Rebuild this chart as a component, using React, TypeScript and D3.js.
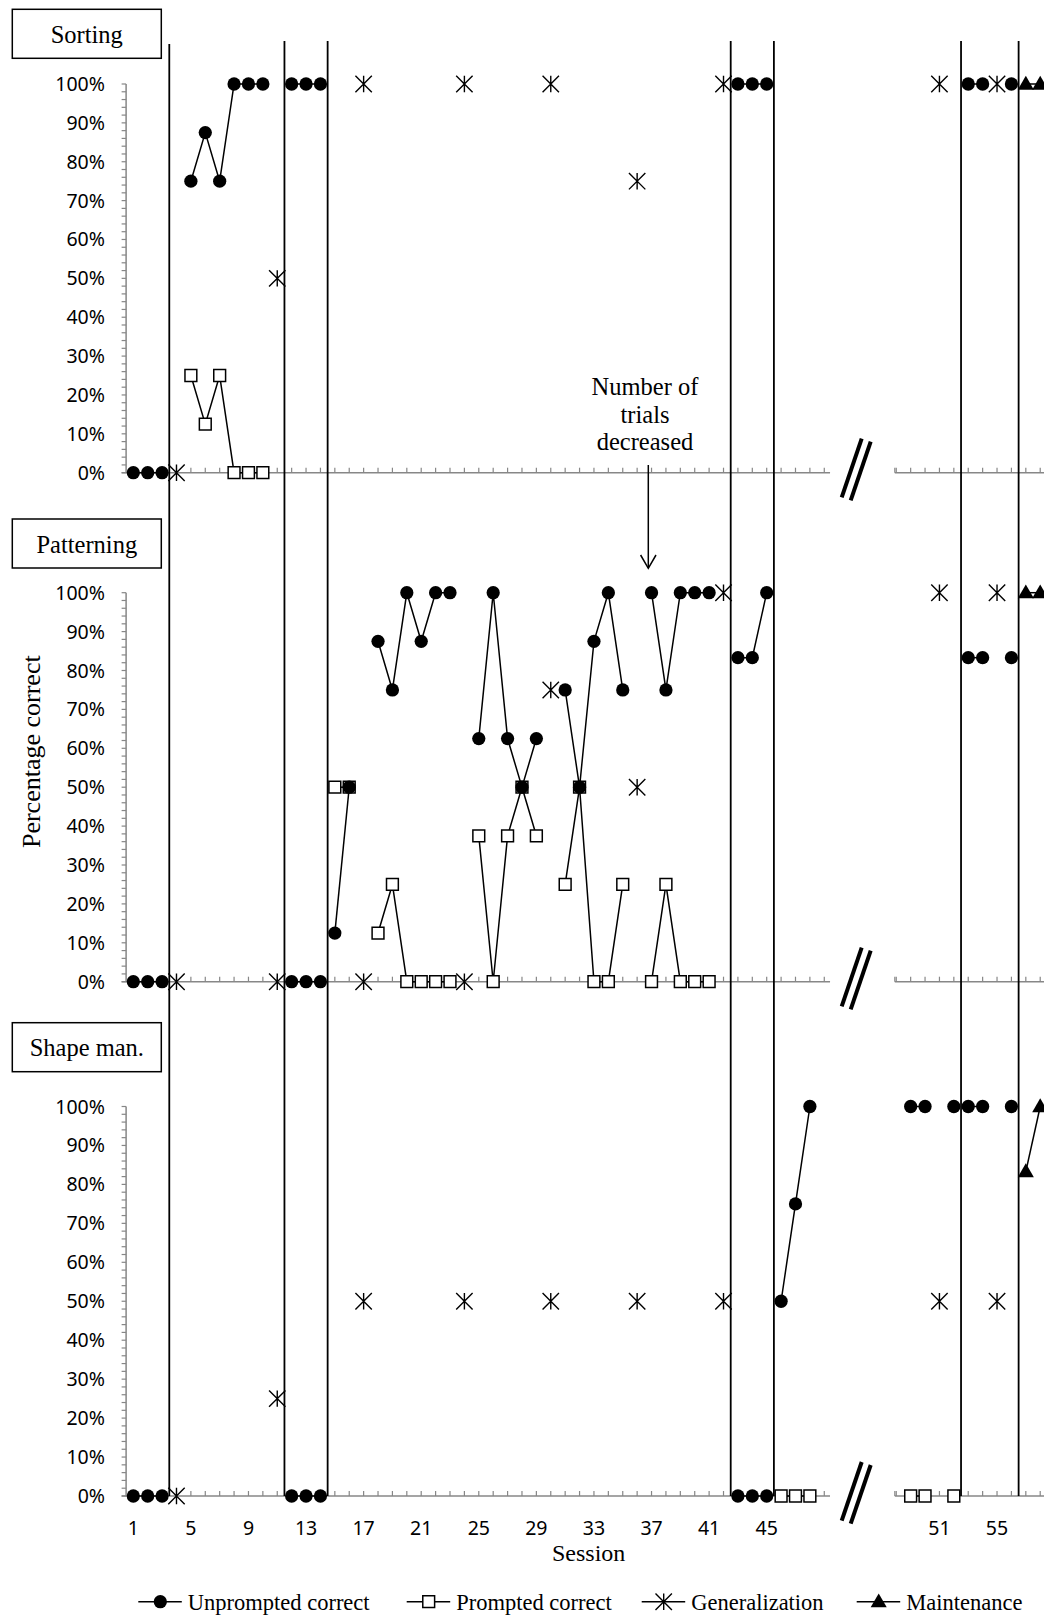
import React from 'react';
import * as d3 from 'd3';

type Pt = [number, number];

/* ═══ Data (session, percent correct) ═══ */
const xLabelsLeft = [1, 5, 9, 13, 17, 21, 25, 29, 33, 37, 41, 45];
const xLabelsRight = [51, 55];
const yLabels = [0, 10, 20, 30, 40, 50, 60, 70, 80, 90, 100];
const phaseChanges = [3.5, 11.5, 14.5, 42.5, 45.5, 52.5, 56.5];

const sortingUnprompted: Pt[] = [
  [1, 0], [2, 0], [3, 0], [5, 75], [6, 87.5], [7, 75], [8, 100], [9, 100], [10, 100],
  [12, 100], [13, 100], [14, 100], [43, 100], [44, 100], [45, 100], [53, 100], [54, 100], [56, 100],
];
const sortingPrompted: Pt[] = [[5, 25], [6, 12.5], [7, 25], [8, 0], [9, 0], [10, 0]];
const sortingGeneral: Pt[] = [[4, 0], [11, 50], [17, 100], [24, 100], [30, 100], [36, 75], [42, 100], [51, 100], [55, 100]];
const sortingMaint: Pt[] = [[57, 100], [58, 100]];

const patternUnprompted: Pt[] = [
  [1, 0], [2, 0], [3, 0], [12, 0], [13, 0], [14, 0], [15, 12.5], [16, 50],
  [18, 87.5], [19, 75], [20, 100], [21, 87.5], [22, 100], [23, 100],
  [25, 62.5], [26, 100], [27, 62.5], [28, 50], [29, 62.5],
  [31, 75], [32, 50], [33, 87.5], [34, 100], [35, 75],
  [37, 100], [38, 75], [39, 100], [40, 100], [41, 100],
  [43, 83.3], [44, 83.3], [45, 100], [53, 83.3], [54, 83.3], [56, 83.3],
];
const patternPrompted: Pt[] = [
  [15, 50], [16, 50], [18, 12.5], [19, 25], [20, 0], [21, 0], [22, 0], [23, 0],
  [25, 37.5], [26, 0], [27, 37.5], [28, 50], [29, 37.5],
  [31, 25], [32, 50], [33, 0], [34, 0], [35, 25],
  [37, 0], [38, 25], [39, 0], [40, 0], [41, 0],
];
const patternGeneral: Pt[] = [[4, 0], [11, 0], [17, 0], [24, 0], [30, 75], [36, 50], [42, 100], [51, 100], [55, 100]];
const patternMaint: Pt[] = [[57, 100], [58, 100]];

const shapeUnprompted: Pt[] = [
  [1, 0], [2, 0], [3, 0], [12, 0], [13, 0], [14, 0], [43, 0], [44, 0], [45, 0],
  [46, 50], [47, 75], [48, 100], [49, 100], [50, 100], [52, 100], [53, 100], [54, 100], [56, 100],
];
const shapePrompted: Pt[] = [[46, 0], [47, 0], [48, 0], [49, 0], [50, 0], [52, 0]];
const shapeGeneral: Pt[] = [[4, 0], [11, 25], [17, 50], [24, 50], [30, 50], [36, 50], [42, 50], [51, 50], [55, 50]];
const shapeMaint: Pt[] = [[57, 83.3], [58, 100]];

const seriesNames = ['Unprompted correct', 'Prompted correct', 'Generalization', 'Maintenance'];

const panels = [
  { title: 'Sorting', top: 84, bottom: 472.7, box: 9.3, u: sortingUnprompted, p: sortingPrompted, g: sortingGeneral, m: sortingMaint },
  { title: 'Patterning', top: 592.7, bottom: 981.7, box: 519, u: patternUnprompted, p: patternPrompted, g: patternGeneral, m: patternMaint },
  { title: 'Shape man.', top: 1106.5, bottom: 1496, box: 1022.7, u: shapeUnprompted, p: shapePrompted, g: shapeGeneral, m: shapeMaint },
];

// blank categories in the original sheet after session 48 (axis break)
const slot = (s: number) => (s > 48 ? s + 6 : s);

const SERIF = '"Liberation Serif", "Times New Roman", serif';
const SANS = '"Noto Sans", "Open Sans", sans-serif';
const AXIS = '#878787';

const circlePath = d3.symbol().type(d3.symbolCircle).size(138)()!;
const squarePath = d3.symbol().type(d3.symbolSquare).size(140)()!;
const trianglePath = d3.symbol().type(d3.symbolTriangle).size(112)()!;
const starPath = (h: number) => `M${-h},${-h}L${h},${h}M${-h},${h}L${h},${-h}M0,${-h}L0,${h}`;

/* ── consecutive runs, broken by gaps and phase-change lines ── */
function runs(pts: Pt[]) {
  const out: Pt[][] = [];
  let cur: Pt[] = [];
  pts.forEach(p => {
    if (cur.length) {
      const prev = cur[cur.length - 1][0];
      const crossesPhase = phaseChanges.some(c => c > prev && c < p[0]);
      if (slot(p[0]) !== slot(prev) + 1 || crossesPhase) { out.push(cur); cur = []; }
    }
    cur.push(p);
  });
  if (cur.length) out.push(cur);
  return out.filter(r => r.length > 1);
}

function Marker({ kind, cx, cy }: { kind: number; cx: number; cy: number }) {
  const t = `translate(${cx},${cy})`;
  if (kind === 0) return <path d={circlePath} transform={t} fill="#000" />;
  if (kind === 1) return <path d={squarePath} transform={t} fill="#fff" stroke="#000" strokeWidth={1.5} />;
  if (kind === 2) return <path d={starPath(8.2)} transform={t} fill="none" stroke="#000" strokeWidth={1.4} />;
  return <path d={trianglePath} transform={`translate(${cx},${cy + 1})`} fill="#000" />;
}

export default function App() {
  const W = 1044, H = 1617;
  const x = d3.scaleLinear().domain([1, 45]).range([133.3, 766.7]);
  const px = (s: number) => x(slot(s));
  const leftEnd = x(49.4), rightStart = x(53.9);
  const lineBottom = panels[2].bottom;

  return (
    <svg width={W} height={H} style={{ position: 'absolute', left: 0, top: 0, background: '#fff' }}>
      <rect width={W} height={H} fill="#fff" />
      {panels.map(pn => {
        const y = d3.scaleLinear().domain([0, 100]).range([pn.bottom, pn.top]);
        const line = d3.line<Pt>().x(d => px(d[0])).y(d => y(d[1]));
        const order: [number, Pt[]][] = [[1, pn.p], [0, pn.u], [2, pn.g], [3, pn.m]];
        const y0 = y(0);
        return (
          <g key={pn.title}>
            {/* title box */}
            <rect x={12.3} y={pn.box} width={149} height={49} fill="#fff" stroke="#000" strokeWidth={1.5} />
            <text x={86.8} y={pn.box + 33.5} textAnchor="middle" fontFamily={SERIF} fontSize={24.5}>{pn.title}</text>

            {/* y axis */}
            <line x1={x(0.5)} x2={x(0.5)} y1={y(100)} y2={y0} stroke={AXIS} strokeWidth={1.5} />
            {d3.range(0, 101, 2).map(v => (
              <line key={v} x1={x(0.5) - 4.5} x2={x(0.5)} y1={y(v)} y2={y(v)} stroke={AXIS} strokeWidth={1.2} />
            ))}
            {yLabels.map(v => (
              <text key={v} x={105} y={y(v) + 7} textAnchor="end" fontFamily={SANS} fontSize={19.5} fill="#000">{v}%</text>
            ))}

            {/* x axis with break */}
            <line x1={x(0.5) - 4.5} x2={leftEnd} y1={y0} y2={y0} stroke={AXIS} strokeWidth={1.5} />
            <line x1={rightStart} x2={W} y1={y0} y2={y0} stroke={AXIS} strokeWidth={1.5} />
            {[...d3.range(1, 50), ...d3.range(54, 65)].map(s => (
              <line key={s} x1={x(s)} x2={x(s)} y1={y0 - 5} y2={y0} stroke={AXIS} strokeWidth={1.2} />
            ))}
            <line x1={rightStart} x2={rightStart} y1={y0 - 5} y2={y0} stroke={AXIS} strokeWidth={1.2} />
            <line x1={861.7} y1={y0 - 34} x2={841.7} y2={y0 + 24.6} stroke="#000" strokeWidth={4} />
            <line x1={870.7} y1={y0 - 31} x2={850.7} y2={y0 + 27.6} stroke="#000" strokeWidth={4} />

            {/* series */}
            {order.map(([kind, pts]) => (
              <g key={kind}>
                {runs(pts).map((r, i) => (
                  <path key={i} d={line(r)!} fill="none" stroke="#000" strokeWidth={1.5} />
                ))}
                {pts.map(d => <Marker key={d[0]} kind={kind} cx={px(d[0])} cy={y(d[1])} />)}
              </g>
            ))}
          </g>
        );
      })}

      {/* phase change lines */}
      {phaseChanges.map((s, i) => {
        const xv = px(s);
        return <line key={s} x1={xv} x2={xv} y1={i === 0 ? 44 : 41} y2={lineBottom} stroke="#000" strokeWidth={1.8} />;
      })}

      {/* x tick labels */}
      {[...xLabelsLeft, ...xLabelsRight].map(s => (
        <text key={s} x={px(s)} y={1534.5} textAnchor="middle" fontFamily={SANS} fontSize={19.5}>{s}</text>
      ))}
      <text x={588.7} y={1561} textAnchor="middle" fontFamily={SERIF} fontSize={24}>Session</text>
      <text transform="translate(40,751.7) rotate(-90)" textAnchor="middle" fontFamily={SERIF} fontSize={26}>Percentage correct</text>

      {/* annotation */}
      <g fontFamily={SERIF} fontSize={24.5} textAnchor="middle">
        <text x={645} y={395}>Number of</text>
        <text x={645} y={423}>trials</text>
        <text x={645} y={450}>decreased</text>
      </g>
      <line x1={648.3} x2={648.3} y1={465} y2={568} stroke="#000" strokeWidth={1.5} />
      <path d="M640.6,555L648.3,568.3L656,555" fill="none" stroke="#000" strokeWidth={1.5} />

      {/* legend */}
      {seriesNames.map((name, i) => {
        const lx = [138.3, 406.7, 641.7, 856.7][i];
        const ly = 1601.7;
        return (
          <g key={name}>
            <line x1={lx} x2={lx + 43.5} y1={ly} y2={ly} stroke="#000" strokeWidth={1.5} />
            <Marker kind={i} cx={lx + 22} cy={ly} />
            <text x={lx + 49.5} y={1610} fontFamily={SERIF} fontSize={22.5}>{name}</text>
          </g>
        );
      })}
    </svg>
  );
}
